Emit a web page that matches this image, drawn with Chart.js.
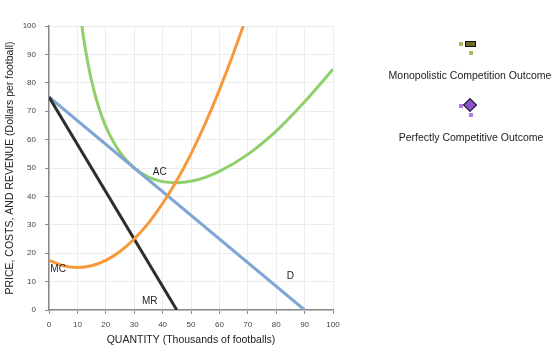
<!DOCTYPE html>
<html>
<head>
<meta charset="utf-8">
<script src="https://cdn.jsdelivr.net/npm/chart.js@4.4.1/dist/chart.umd.min.js"></script>
<style>
  html,body{margin:0;padding:0;background:#fff;}
  #wrap{position:relative;width:560px;height:356px;}
  canvas{position:absolute;left:0;top:0;}
  .lg{position:absolute;font-family:"Liberation Sans",Arial,sans-serif;font-size:10.5px;color:#222;white-space:nowrap;transform:translateX(-50%);}
  .dot{position:absolute;width:4px;height:4px;}
  .rect{position:absolute;width:9px;height:4px;border:1.5px solid #111;background:#6d6a2e;}
  .dia{position:absolute;width:8px;height:8px;border:1.5px solid #111;background:#8a52c9;transform:rotate(45deg);}
</style>
</head>
<body>
<div id="wrap">
  <canvas id="c" width="560" height="356"></canvas>
  <div class="dot" style="left:459px;top:42px;background:#b5b26a"></div>
  <div class="dot" style="left:469px;top:51px;background:#b5b26a"></div>
  <div class="rect" style="left:465px;top:41px"></div>
  <div class="lg" style="left:470px;top:69px">Monopolistic Competition Outcome</div>
  <div class="dot" style="left:459px;top:104px;background:#b07ce0"></div>
  <div class="dot" style="left:469px;top:113px;background:#b07ce0"></div>
  <div class="dia" style="left:465px;top:100px"></div>
  <div class="lg" style="left:471px;top:131px">Perfectly Competitive Outcome</div>
</div>
<script>
// Quantities (thousands of footballs) and values (dollars)
const qAC = [11.6, 12, 14, 16, 18, 20, 25, 30, 35, 40, 45, 50, 55, 60, 70, 80, 90, 100];
const acVals = [100, 96.9, 85.3, 76.6, 69.9, 64.6, 55.5, 50, 46.8, 45.2, 44.8, 45.3, 46.7, 48.8, 54.8, 63, 73.3, 84.8];
const qMC = [0, 5, 10, 15, 20, 25, 30, 35, 40, 45, 50, 55, 60, 65, 68.4];
const mcVals = [17.5, 15.6, 15, 15.6, 17.5, 20.6, 25, 30.6, 37.5, 45.6, 55, 65.6, 77.5, 90.6, 100];
const qD = [0, 90];
const dVals = [75, 0];
const qMR = [0, 45];
const mrVals = [75, 0];
const curveLabels = ['AC', 'MC', 'D', 'MR'];
const labelAt = [[39, 48.5], [3.2, 14.5], [85, 12], [35.5, 3]];
const xTicks = [0,10,20,30,40,50,60,70,80,90,100];
const yTicks = [0,10,20,30,40,50,60,70,80,90,100];

const pts = (xs, ys) => xs.map((x, i) => ({x: x, y: ys[i]}));

const labelPlugin = {
  id: 'curveLabels',
  afterDatasetsDraw(chart) {
    const ctx = chart.ctx, xs = chart.scales.x, ys = chart.scales.y;
    ctx.save();
    ctx.font = '10px "Liberation Sans", Arial, sans-serif';
    ctx.fillStyle = '#222';
    ctx.textAlign = 'center';
    ctx.textBaseline = 'middle';
    curveLabels.forEach((t, i) => {
      ctx.fillText(t, xs.getPixelForValue(labelAt[i][0]), ys.getPixelForValue(labelAt[i][1]));
    });
    ctx.restore();
  }
};

const font = {family: '"Liberation Sans", Arial, sans-serif'};
new Chart(document.getElementById('c'), {
  type: 'scatter',
  data: {
    datasets: [
      {label: 'MC', data: pts(qMC, mcVals), borderColor: '#f7993b', order: 1, cubicInterpolationMode: 'monotone'},
      {label: 'MR', data: pts(qMR, mrVals), borderColor: '#2e2e2e', order: 2},
      {label: 'D', data: pts(qD, dVals), borderColor: '#80a6d6', order: 3},
      {label: 'AC', data: pts(qAC, acVals), borderColor: '#8fd06a', order: 4, cubicInterpolationMode: 'monotone'}
    ].map(d => Object.assign({showLine: true, pointRadius: 0, borderWidth: 3, fill: false}, d))
  },
  options: {
    responsive: false,
    animation: false,
    events: [],
    layout: {padding: {top: 26, right: 227, left: 0, bottom: 0}},
    plugins: {legend: {display: false}, tooltip: {enabled: false}},
    scales: {
      x: {
        type: 'linear', min: 0, max: 100,
        afterBuildTicks: s => { s.ticks = xTicks.map(v => ({value: v})); },
        afterFit: s => { s.height = 46; },
        grid: {color: '#ececec', tickColor: '#8a8a8a', tickLength: 4, lineWidth: 1},
        border: {color: '#8a8a8a', width: 1.5},
        ticks: {color: '#444', font: Object.assign({size: 8}, font), padding: 6, maxRotation: 0},
        title: {display: true, text: 'QUANTITY (Thousands of footballs)', color: '#222', font: Object.assign({size: 10.5}, font), padding: {top: 3, bottom: 10}}
      },
      y: {
        type: 'linear', min: 0, max: 100,
        afterBuildTicks: s => { s.ticks = yTicks.map(v => ({value: v})); },
        afterFit: s => { s.width = 49; },
        grid: {color: '#ececec', tickColor: '#8a8a8a', tickLength: 4, lineWidth: 1},
        border: {color: '#8a8a8a', width: 1.5},
        ticks: {color: '#444', font: Object.assign({size: 8}, font), padding: 9},
        title: {display: true, text: 'PRICE, COSTS, AND REVENUE (Dollars per football)', color: '#222', font: Object.assign({size: 10.5}, font), padding: {top: 4, bottom: 0}}
      }
    }
  },
  plugins: [labelPlugin]
});
</script>
</body>
</html>
